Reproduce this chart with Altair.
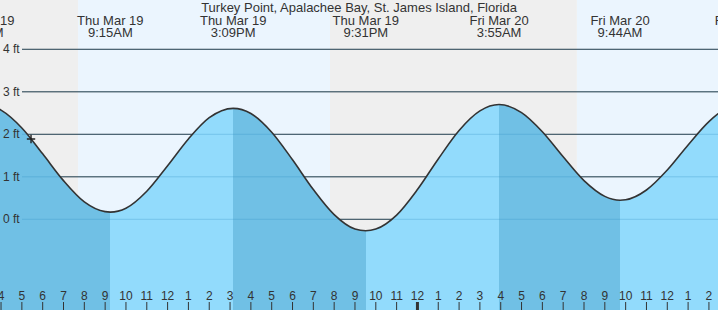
import altair as alt
import pandas as pd

# ---- data -----------------------------------------------------------------
# hours counted from Thu Mar 19 00:00, tide height in feet
curve_hours = [3.05, 4, 5, 6, 7, 8, 9, 9.25, 10, 11, 12, 13, 14, 15.15, 16, 17, 18,
               19, 20, 21, 21.52, 22, 23, 24, 25, 26, 27, 27.92, 29, 30, 31, 32, 33,
               33.73, 34, 35, 36, 37, 38, 39, 39.7]
curve_feet = [2.72, 2.57, 2.15, 1.54, 0.91, 0.41, 0.18, 0.17, 0.26, 0.66, 1.26, 1.89,
              2.39, 2.61, 2.49, 2.05, 1.40, 0.70, 0.11, -0.23, -0.27, -0.23, 0.10,
              0.70, 1.42, 2.09, 2.55, 2.70, 2.51, 2.06, 1.47, 0.91, 0.54, 0.45, 0.46,
              0.69, 1.16, 1.75, 2.30, 2.66, 2.76]

event_hours = [3.05, 9.25, 15.15, 21.52, 27.92, 33.73, 39.7]
event_days = ["Thu Mar 19", "Thu Mar 19", "Thu Mar 19", "Thu Mar 19",
              "Fri Mar 20", "Fri Mar 20", "Fri Mar 20"]
event_times = ["3:03AM", "9:15AM", "3:09PM", "9:31PM", "3:55AM", "9:44AM", "3:42PM"]
event_kinds = ["high", "low", "high", "low", "high", "low", "high"]

band_start = [3.0, 7.70, 19.80, 31.66]
band_end = [7.70, 19.80, 31.66, 40.0]
band_kind = ["night", "day", "night", "day"]

grid_feet = [0, 1, 2, 3, 4]
grid_labels = ["0 ft", "1 ft", "2 ft", "3 ft", "4 ft"]

tick_hours = list(range(4, 39))
tick_labels = ["4", "5", "6", "7", "8", "9", "10", "11", "12", "1", "2", "3", "4", "5",
               "6", "7", "8", "9", "10", "11", "12", "1", "2", "3", "4", "5", "6", "7",
               "8", "9", "10", "11", "12", "1", "2"]

now_hour = [5.44]
now_feet = [1.89]

title_text = "Turkey Point, Apalachee Bay, St. James Island, Florida"

# ---- styling ---------------------------------------------------------------
FONT = "Liberation Sans"
TXT = "#333333"
DARK_WATER = "#70c0e5"
LIGHT_WATER = "#92dbfc"
NIGHT = "#efefef"
DAY = "#ebf5fe"
Y_MIN, Y_MAX = -2.134, 5.16

x_scale = alt.Scale(domain=[3.95, 38.436], nice=False, zero=False)
y_scale = alt.Scale(domain=[Y_MIN, Y_MAX], nice=False, zero=False)

curve = pd.DataFrame({"h": curve_hours, "ft": curve_feet})
events = pd.DataFrame({"h": event_hours, "day": event_days, "time": event_times,
                       "kind": event_kinds})
bands = pd.DataFrame({"s": band_start, "e": band_end,
                      "c": [NIGHT if k == "night" else DAY for k in band_kind]})
grid = pd.DataFrame({"ft": grid_feet, "label": grid_labels})
ticks = pd.DataFrame({"h": tick_hours, "label": tick_labels,
                      "w": [3 if h == 24 else 1 for h in tick_hours]})
now = pd.DataFrame({"h": now_hour, "ft": now_feet})

# gradient stops: falling tide (after a high) dark, rising tide (after a low) light
t0, t1 = curve_hours[0], curve_hours[-1]
def water(kind):
    return DARK_WATER if kind == "high" else LIGHT_WATER
stops = [alt.GradientStop(offset=0, color=water(event_kinds[0]))]
for h, k_prev, k in zip(event_hours[1:-1], event_kinds[:-2], event_kinds[1:-1]):
    o = (h - t0) / (t1 - t0)
    stops.append(alt.GradientStop(offset=o, color=water(k_prev)))
    stops.append(alt.GradientStop(offset=o, color=water(k)))
stops.append(alt.GradientStop(offset=1, color=water(event_kinds[-2])))
grad = alt.Gradient(gradient="linear", stops=stops, x1=0, x2=1, y1=0, y2=0)

X = lambda f: alt.X(f, type="quantitative", scale=x_scale, axis=None)
Y = lambda f: alt.Y(f, type="quantitative", scale=y_scale, axis=None)

bg = alt.Chart(bands).mark_rect(clip=True).encode(
    x=X("s"), x2="e", y=alt.value(0), y2=alt.value(310),
    color=alt.Color("c:N", scale=None))

grid_dark = alt.Chart(grid).mark_rule(color="#333333", strokeWidth=1).encode(
    x=alt.value(22), x2=alt.value(718), y=Y("ft"))

area = alt.Chart(curve).mark_area(interpolate="monotone", clip=True, color=grad).encode(
    x=X("h"), y=Y("ft"), y2=alt.datum(Y_MIN))

grid_faint = alt.Chart(grid).mark_rule(color="#2f8fc4", strokeWidth=1, opacity=0.3).encode(
    x=alt.value(22), x2=alt.value(718), y=Y("ft"))

line = alt.Chart(curve).mark_line(interpolate="monotone", clip=True, color="#333333",
                                  strokeWidth=1.6).encode(x=X("h"), y=Y("ft"))

marker = alt.Chart(now).mark_point(shape="M-1,0L1,0M0,-1L0,1", size=70, filled=False,
                                   color="#222222", strokeWidth=1.4, opacity=1).encode(
    x=X("h"), y=Y("ft"))

grid_text = alt.Chart(grid).mark_text(align="left", baseline="middle", font=FONT,
                                      fontSize=12, color=TXT).encode(
    x=alt.value(3), y=Y("ft"), text="label:N")

ev_day = alt.Chart(events).mark_text(align="center", baseline="alphabetic", font=FONT,
                                     fontSize=13, color=TXT).encode(
    x=X("h"), y=alt.value(24.7), text="day:N")
ev_time = alt.Chart(events).mark_text(align="center", baseline="alphabetic", font=FONT,
                                      fontSize=13, color=TXT).encode(
    x=X("h"), y=alt.value(37), text="time:N")

title = alt.Chart(pd.DataFrame({"t": [title_text]})).mark_text(
    align="center", baseline="alphabetic", font=FONT, fontSize=13, color=TXT).encode(
    x=alt.value(359), y=alt.value(12), text="t:N")

tick_rules = alt.Chart(ticks).mark_rule(color="#333333").encode(
    x=X("h"), y=alt.value(302), y2=alt.value(310),
    strokeWidth=alt.StrokeWidth("w:Q", scale=None))
tick_text = alt.Chart(ticks).mark_text(align="center", baseline="alphabetic", font=FONT,
                                       fontSize=12, color=TXT).encode(
    x=X("h"), y=alt.value(300), text="label:N")

chart = alt.layer(bg, grid_dark, area, grid_faint, line, marker, grid_text,
                  ev_day, ev_time, title, tick_rules, tick_text).properties(
    width=718, height=310, padding=0, autosize=alt.AutoSizeParams(type="none")
).configure_view(strokeWidth=0)

chart.save("out.html", embed_options={"renderer": "svg", "actions": False})
